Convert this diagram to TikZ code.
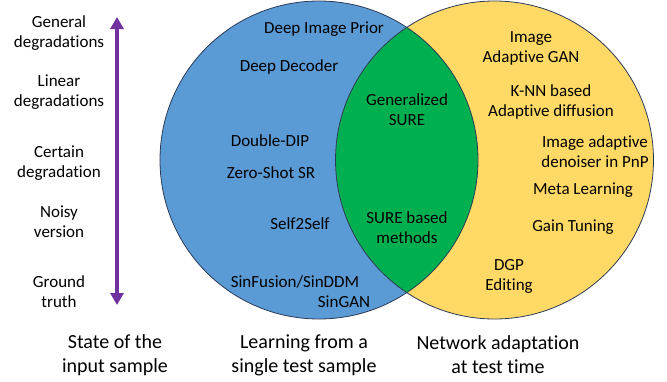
\documentclass[tikz,border=0pt]{standalone}
\usepackage{fontspec}
\setmainfont{Carlito}[Ligatures={NoCommon,NoContextual}]
\usetikzlibrary{arrows.meta}

\definecolor{leftblue}{HTML}{5B9BD5}
\definecolor{rightyellow}{HTML}{FFD966}
\definecolor{midgreen}{HTML}{00B050}
\definecolor{rimcol}{HTML}{2B3A55}
\definecolor{arrowpurple}{HTML}{7030A0}

\def\rad{159pt}

\begin{document}
\begin{tikzpicture}[x=1pt,y=-1pt,
    item/.style={font=\fontsize{17}{20}\selectfont,align=center,inner sep=0pt},
    caption/.style={font=\fontsize{20}{24}\selectfont,align=center,inner sep=0pt}]
    \useasboundingbox (0,0) rectangle (667,381);

    \coordinate (L) at (319,160);
    \coordinate (R) at (494.5,160);

    % the two sets and their overlap
    \fill[leftblue] (L) circle[radius=\rad];
    \fill[rightyellow] (R) circle[radius=\rad];
    \begin{scope}
      \clip (L) circle[radius=\rad];
      \fill[midgreen] (R) circle[radius=\rad];
    \end{scope}
    \draw[rimcol,line width=0.8pt] (L) circle[radius=\rad];
    \draw[rimcol,line width=0.8pt] (R) circle[radius=\rad];

    % scale of the input sample
    \coordinate (top) at (117,17);
    \coordinate (bot) at (117,305);
    \path[draw,arrowpurple,line width=4pt,
      {Triangle[width=13pt,length=12pt]}-{Triangle[width=13pt,length=12pt]}] (top) -- (bot);

    \node[item] (S1) at (59,33) {General\\degradations};
    \node[item] (S2) at (59,92) {Linear\\degradations};
    \node[item] (S3) at (59,163) {Certain\\degradation};
    \node[item] (S4) at (59,222) {Noisy\\version};
    \node[item] (S5) at (59,292) {Ground\\truth};

    % single test sample
    \node[item] (A1) at (324,29) {Deep Image Prior};
    \node[item] (A2) at (289,67) {Deep Decoder};
    \node[item] (A3) at (270,141) {Double-DIP};
    \node[item] (A4) at (271,173) {Zero-Shot SR};
    \node[item] (A5) at (300,224) {Self2Self};
    \node[item] (A6) at (295,282) {SinFusion/SinDDM};
    \node[item] (A7) at (344,302) {SinGAN};

    % both
    \node[item] (B1) at (407,110) {Generalized\\SURE};
    \node[item] (B2) at (407,228) {SURE based\\methods};

    % network adaptation
    \node[item] (C1) at (531,48) {Image\\Adaptive GAN};
    \node[item] (C2) at (551,102) {K-NN based\\Adaptive diffusion};
    \node[item] (C3) at (595,152) {Image adaptive\\denoiser in PnP};
    \node[item] (C4) at (583,190) {Meta Learning};
    \node[item] (C5) at (573,227) {Gain Tuning};
    \node[item] (C6) at (509,276) {DGP\\Editing};

    \node[caption] (T1) at (115,355) {State of the\\input sample};
    \node[caption] (T2) at (304,355) {Learning from a\\single test sample};
    \node[caption] (T3) at (498,355) {Network adaptation\\at test time};

  \end{tikzpicture}
\end{document}
